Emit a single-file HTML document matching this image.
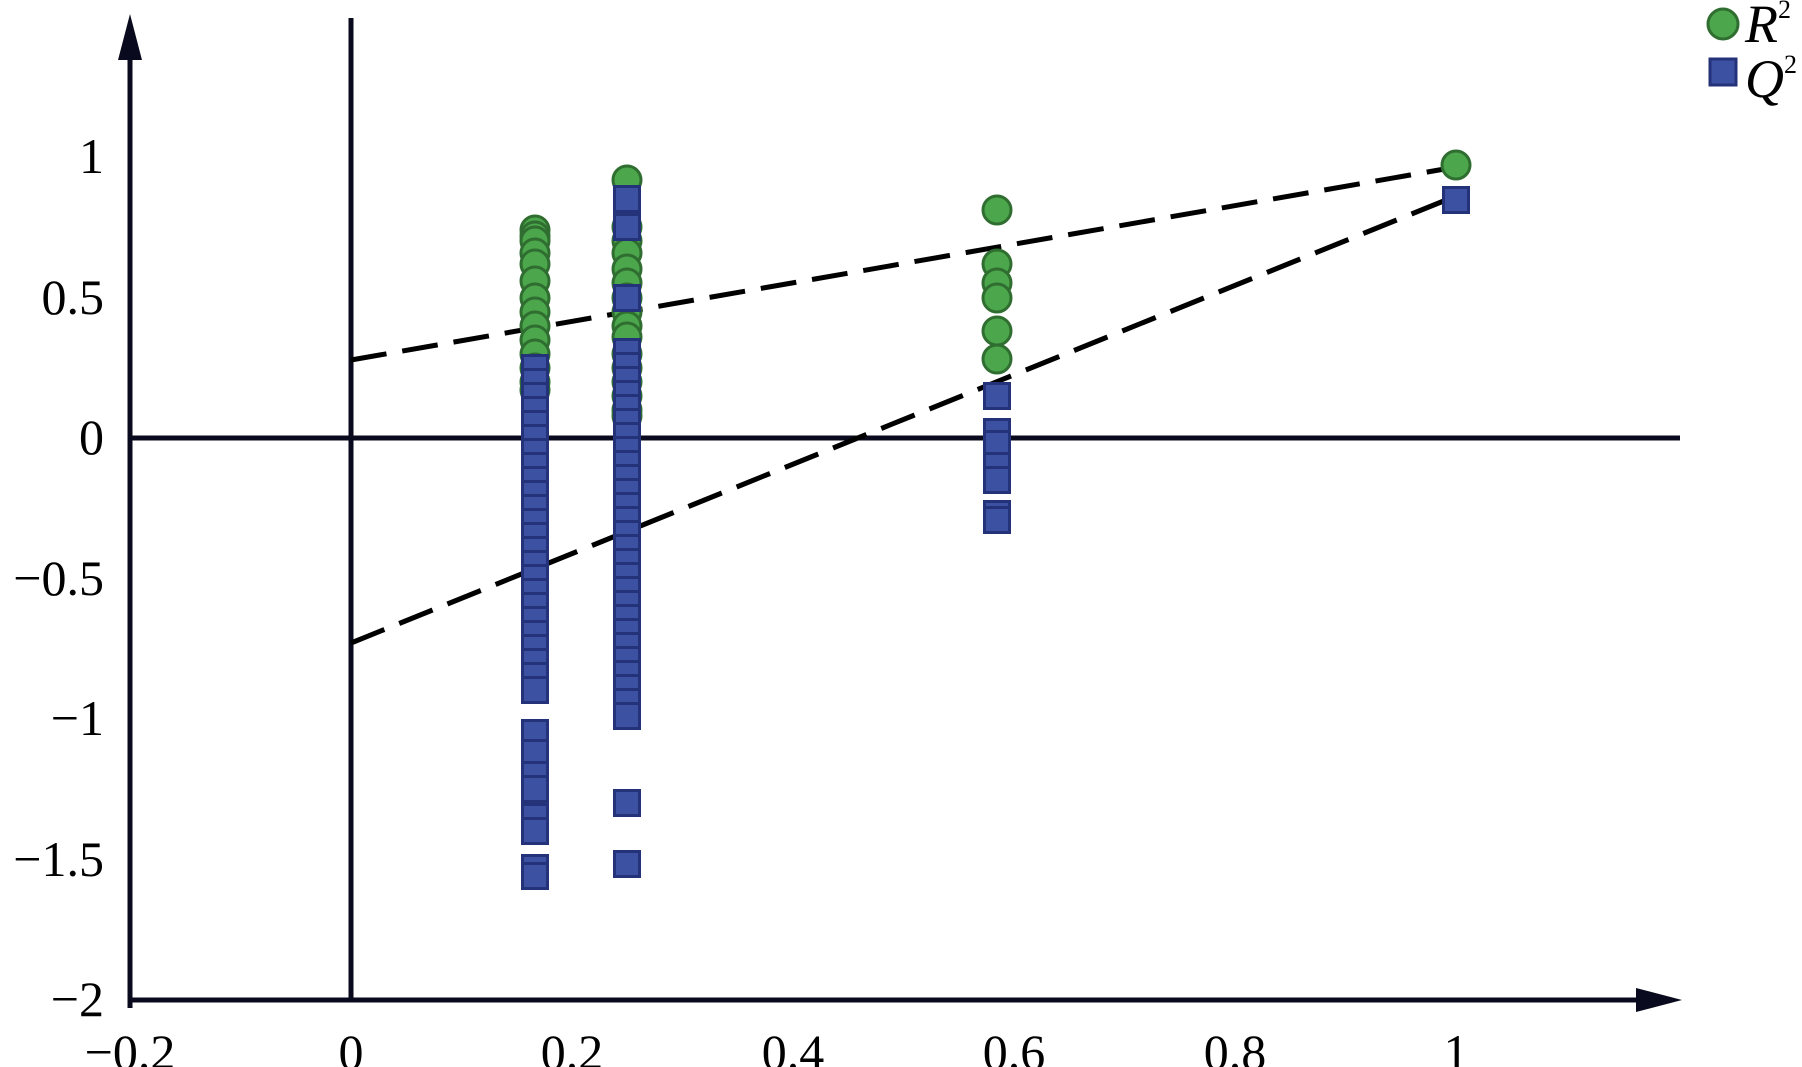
<!DOCTYPE html>
<html><head><meta charset="utf-8"><style>
html,body{margin:0;padding:0;background:#fff;}
svg{display:block;}
text{font-family:"Liberation Serif",serif;fill:#000;}
</style></head><body>
<svg width="1802" height="1067" viewBox="0 0 1802 1067" xmlns="http://www.w3.org/2000/svg">
<defs>
<circle id="c" r="14" fill="#4ca64c" stroke="#2f6e30" stroke-width="3"/>
<rect id="s" x="-12.5" y="-12.5" width="25" height="25" fill="#3d51a3" stroke="#24327a" stroke-width="3"/>
</defs>
<g stroke="#0a0a1e" stroke-width="5" fill="none">
<line x1="130" y1="50" x2="130" y2="1008"/>
<line x1="128" y1="1000" x2="1650" y2="1000"/>
<line x1="130" y1="438" x2="1680" y2="438"/>
<line x1="351" y1="18" x2="351" y2="1000"/>
</g>
<polygon points="130,14 118,60 142,60" fill="#0a0a1e"/>
<polygon points="1682,1000 1636,988 1636,1012" fill="#0a0a1e"/>
<g font-size="50" text-anchor="end">
<text x="104" y="173">1</text>
<text x="104" y="314">0.5</text>
<text x="104" y="454">0</text>
<text x="104" y="595">−0.5</text>
<text x="104" y="735">−1</text>
<text x="104" y="876">−1.5</text>
<text x="104" y="1016">−2</text>
</g>
<g font-size="50" text-anchor="middle">
<text x="130" y="1069">−0.2</text>
<text x="351" y="1069">0</text>
<text x="572" y="1069">0.2</text>
<text x="793" y="1069">0.4</text>
<text x="1014" y="1069">0.6</text>
<text x="1235" y="1069">0.8</text>
<text x="1456" y="1069">1</text>
</g>
<g stroke="#000" stroke-width="5" stroke-dasharray="36,16" fill="none">
<line x1="351" y1="360" x2="1456" y2="167"/>
<line x1="351" y1="643" x2="1456" y2="196"/>
</g>
<g>
<use href="#c" x="535" y="230"/><use href="#c" x="535" y="236"/><use href="#c" x="535" y="241"/><use href="#c" x="535" y="253"/><use href="#c" x="535" y="264"/><use href="#c" x="535" y="281"/><use href="#c" x="535" y="298"/><use href="#c" x="535" y="312"/><use href="#c" x="535" y="326"/><use href="#c" x="535" y="340"/><use href="#c" x="535" y="354"/><use href="#c" x="535" y="368"/><use href="#c" x="535" y="382"/><use href="#c" x="535" y="390"/>
<use href="#c" x="627" y="180"/><use href="#c" x="627" y="227"/><use href="#c" x="627" y="241"/><use href="#c" x="627" y="253"/><use href="#c" x="627" y="269"/><use href="#c" x="627" y="283"/><use href="#c" x="627" y="298"/><use href="#c" x="627" y="312"/><use href="#c" x="627" y="326"/><use href="#c" x="627" y="337"/><use href="#c" x="627" y="354"/><use href="#c" x="627" y="368"/><use href="#c" x="627" y="382"/><use href="#c" x="627" y="396"/><use href="#c" x="627" y="410"/><use href="#c" x="627" y="416"/>
<use href="#c" x="997" y="210"/><use href="#c" x="997" y="264"/><use href="#c" x="997" y="283"/><use href="#c" x="997" y="298"/><use href="#c" x="997" y="331"/><use href="#c" x="997" y="359"/>
<use href="#c" x="1456" y="165"/>
</g>
<g>
<use href="#s" x="535" y="368"/><use href="#s" x="535" y="382"/><use href="#s" x="535" y="396"/><use href="#s" x="535" y="410"/><use href="#s" x="535" y="424"/><use href="#s" x="535" y="438"/><use href="#s" x="535" y="452"/><use href="#s" x="535" y="466"/><use href="#s" x="535" y="480"/><use href="#s" x="535" y="494"/><use href="#s" x="535" y="508"/><use href="#s" x="535" y="522"/><use href="#s" x="535" y="536"/><use href="#s" x="535" y="550"/><use href="#s" x="535" y="564"/><use href="#s" x="535" y="578"/><use href="#s" x="535" y="592"/><use href="#s" x="535" y="606"/><use href="#s" x="535" y="620"/><use href="#s" x="535" y="634"/><use href="#s" x="535" y="648"/><use href="#s" x="535" y="662"/><use href="#s" x="535" y="676"/><use href="#s" x="535" y="690"/>
<use href="#s" x="535" y="733"/><use href="#s" x="535" y="753"/><use href="#s" x="535" y="775"/><use href="#s" x="535" y="789"/><use href="#s" x="535" y="817"/><use href="#s" x="535" y="831"/><use href="#s" x="535" y="868"/><use href="#s" x="535" y="876"/>
<use href="#s" x="627" y="199"/><use href="#s" x="627" y="227"/><use href="#s" x="627" y="298"/><use href="#s" x="627" y="352"/>
<use href="#s" x="627" y="366"/><use href="#s" x="627" y="380"/><use href="#s" x="627" y="394"/><use href="#s" x="627" y="408"/><use href="#s" x="627" y="422"/><use href="#s" x="627" y="436"/><use href="#s" x="627" y="450"/><use href="#s" x="627" y="464"/><use href="#s" x="627" y="478"/><use href="#s" x="627" y="492"/><use href="#s" x="627" y="506"/><use href="#s" x="627" y="520"/><use href="#s" x="627" y="534"/><use href="#s" x="627" y="548"/><use href="#s" x="627" y="562"/><use href="#s" x="627" y="576"/><use href="#s" x="627" y="590"/><use href="#s" x="627" y="604"/><use href="#s" x="627" y="618"/><use href="#s" x="627" y="632"/><use href="#s" x="627" y="646"/><use href="#s" x="627" y="660"/><use href="#s" x="627" y="674"/><use href="#s" x="627" y="688"/><use href="#s" x="627" y="702"/><use href="#s" x="627" y="716"/>
<use href="#s" x="627" y="803"/><use href="#s" x="627" y="864"/>
<use href="#s" x="997" y="396"/><use href="#s" x="997" y="432"/><use href="#s" x="997" y="444"/><use href="#s" x="997" y="466"/><use href="#s" x="997" y="480"/><use href="#s" x="997" y="514"/><use href="#s" x="997" y="520"/>
<use href="#s" x="1456" y="200"/>
</g>
<circle cx="1723" cy="24" r="15" fill="#4ca64c" stroke="#2f6e30" stroke-width="3"/>
<rect x="1710" y="59" width="26" height="26" fill="#3d51a3" stroke="#24327a" stroke-width="3"/>
<text x="1745" y="42" font-size="54" font-style="italic">R<tspan font-size="26" font-style="normal" dy="-24">2</tspan></text>
<text x="1745" y="97" font-size="54" font-style="italic">Q<tspan font-size="26" font-style="normal" dy="-24">2</tspan></text>
</svg>
</body></html>
